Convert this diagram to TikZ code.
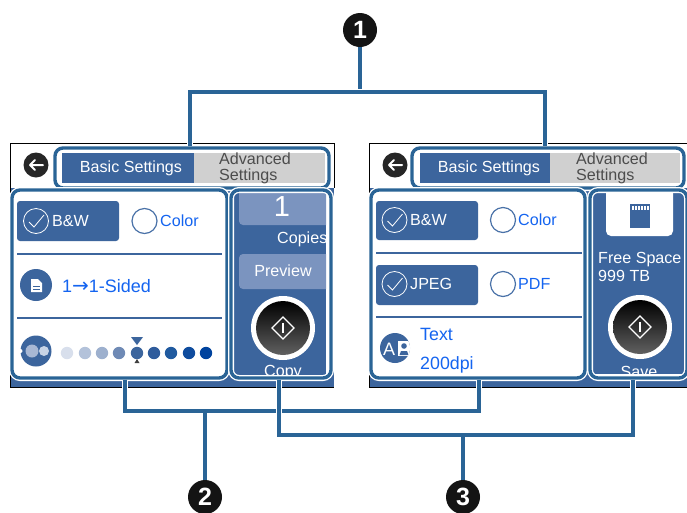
\documentclass[tikz,border=0pt]{standalone}
\usepackage{fontspec}
\setmainfont{Liberation Sans}
\newfontfamily\arrowfont{DejaVu Sans}
\definecolor{uiblue}{HTML}{3C659D}
\definecolor{outl}{HTML}{2A6496}
\definecolor{pale}{HTML}{7B94BF}
\definecolor{tabgray}{HTML}{D0D0D0}
\definecolor{linkblue}{HTML}{1464F0}
\definecolor{ringblue}{HTML}{4A72A8}
\definecolor{densa}{HTML}{A8B8D4}
\definecolor{densb}{HTML}{C8D4E6}
\tikzset{
  px/.style={x=1pt,y=-1pt},
  outline/.style={rectangle,rounded corners=8pt,draw=outl,line width=3.4pt,inner sep=0pt,
    preaction={draw=white,line width=6pt}},
  conn/.style={draw=outl,line width=3.4pt,preaction={draw=white,line width=6pt}},
  connplain/.style={draw=outl,line width=3.4pt},
  badge/.style={circle,fill=black!92,text=white,minimum size=34pt,inner sep=0pt,font=\fontsize{25}{25}\selectfont\bfseries},
  ui/.style={font=\fontsize{16.1}{17}\selectfont,inner sep=0pt,yshift=-1pt},
  whitetext/.style={ui,text=white},
  bluetext/.style={ui,text=linkblue},
  graytext/.style={ui,text=black!70,align=left},
  sel/.style={fill=uiblue,rounded corners=3pt},
  sep/.style={draw=uiblue,line width=2pt},
  radio/.style={circle,draw=ringblue,line width=1.2pt,minimum size=25pt,inner sep=0pt},
  radioon/.style={circle,draw=white,line width=.8pt,minimum size=25pt,inner sep=0pt},
  tick/.style={draw=white,line width=.8pt},
  icon/.style={circle,fill=uiblue,minimum size=32pt,inner sep=0pt},
  softbtn/.style={fill=pale,rounded corners=4pt},
  backbtn/.style={circle,fill=black!85,minimum size=25pt,inner sep=0pt},
}
\newcommand{\backicon}[2]{%
  \node[backbtn] at (#1,#2) {};
  \draw[white,line width=2pt,line cap=round,line join=round] (#1+7,#2)--(#1-6,#2) (#1-1,#2-5)--(#1-6,#2)--(#1-1,#2+5);}
\newcommand{\startbtn}[2]{%
  \fill[white] (#1,#2) circle (32);
  \shade[top color=black,middle color=black!45,bottom color=black!62] (#1,#2) circle (27);
  \draw[white,line width=1.3pt] (#1-11,#2)--(#1,#2-11)--(#1+11,#2)--(#1,#2+11)--cycle;
  \draw[white,line width=1.3pt] (#1,#2-5)--(#1,#2+5);}
\newcommand{\radioyes}[2]{%
  \node[radioon] at (#1,#2) {};
  \draw[tick] (#1-7,#2+1)--(#1-2,#2+6)--(#1+8,#2-6);}
\begin{document}
\begin{tikzpicture}[px]
\useasboundingbox (0,0) rectangle (687,512);
% ---- left screen
\fill[white] (10,143) rectangle (334,190);
\fill[uiblue] (10,188) rectangle (334,387);
\draw[black,line width=1pt] (10,193)--(10,143)--(334,143)--(334,188);
\draw[black,line width=1pt] (10,372)--(10,387)--(334,387);
\backicon{36}{165}
\fill[uiblue] (62,153) rectangle (194,183);
\fill[tabgray] (194,153) rectangle (325,183);
\node[whitetext] at (131,167) {Basic Settings};
\node[graytext,anchor=west,text width=90pt] at (219,167) {Advanced\\[-1.2pt]Settings};
\fill[white] (12,190) rectangle (227,378);
\fill[sel] (17,201) rectangle (119,241);
\radioyes{36}{221}
\node[whitetext,anchor=west] at (52,220) {B\&W};
\node[radio] at (144.5,221) {};
\node[bluetext,anchor=west] at (160,220) {Color};
\draw[sep] (17,254)--(222,254);
\node[icon] at (36,285) {};
\fill[white] (31,279) -- (38,279) -- (42,283) -- (42,292) -- (31,292) -- cycle;
\draw[uiblue,line width=.8pt] (33,286)--(40,286) (33,289)--(40,289);
\node[bluetext,anchor=west,font=\fontsize{18}{19}\selectfont] at (62,285) {1{\arrowfont\fontsize{20}{20}\selectfont →}1-Sided};
\draw[sep] (17,318)--(222,318);
\node[icon,minimum size=31pt] at (36,351) {};
\fill[white] (20.5,351) circle (2);
\fill[densa] (32,351) circle (6.5);
\fill[densb] (44,351) circle (5);
\foreach \x/\c in {67/D8DFEC,85/B3C2DA,102/9DB0CE,119/6F8AB5,137/3C659D,154/2F5C9C,171/205A9F,189/0F4C9E,206/00439E}{
  \definecolor{dd}{HTML}{\c}\fill[dd] (\x,353) circle (6.2);}
\fill[uiblue] (131,337)--(143,337)--(137,345)--cycle;
\fill[black!75] (134.5,363)--(139.5,363)--(137,359)--cycle;
\fill[white] (232,192) rectangle (331,378);
\fill[uiblue] (234,193) rectangle (326,375);
\begin{scope}
  \clip (234,193) rectangle (326,375);
  \fill[softbtn] (239,180) rectangle (340,225);
  \node[text=white,font=\fontsize{29}{29}\selectfont,inner sep=0pt] at (282,207) {1};
  \node[whitetext,anchor=west] at (277,238) {Copies};
  \fill[softbtn] (239,254) rectangle (340,289);
  \node[whitetext] at (283,270) {Preview};
  \node[whitetext] at (283,372) {Copy};
\end{scope}
\startbtn{283}{328}
% ---- right screen
\fill[white] (369,143) rectangle (687,190);
\fill[uiblue] (369,188) rectangle (687,387);
\draw[black,line width=1pt] (369,193)--(369,143)--(687,143);
\draw[black,line width=1pt] (369,372)--(369,387)--(687,387);
\backicon{395}{165}
\fill[uiblue] (420,153) rectangle (550,183);
\fill[tabgray] (550,153) rectangle (680,183);
\node[whitetext] at (489,167) {Basic Settings};
\node[graytext,anchor=west,text width=90pt] at (576,167) {Advanced\\[-1.2pt]Settings};
\fill[white] (371,190) rectangle (585,378);
\fill[sel] (376,201) rectangle (478,240);
\radioyes{394.5}{220}
\node[whitetext,anchor=west] at (410,219) {B\&W};
\node[radio] at (503,220) {};
\node[bluetext,anchor=west] at (518,219) {Color};
\draw[sep] (376,253)--(582,253);
\fill[sel] (376,265) rectangle (478,305);
\radioyes{394.5}{284}
\node[whitetext,anchor=west] at (410,283) {JPEG};
\node[radio] at (503,284) {};
\node[bluetext,anchor=west] at (518,283) {PDF};
\draw[sep] (376,317)--(582,317);
\node[icon,minimum size=30pt] at (395,348) {};
\node[text=white,font=\fontsize{18}{18}\selectfont,inner sep=0pt] at (389,349) {A};
\begin{scope}
  \clip (395,348) circle (15);
  \fill[white] (398,341) rectangle (411,356);
  \fill[uiblue] (404,346) circle (2.8);
  \fill[uiblue] (399.5,355)--(401,351)--(407,351)--(408.5,355)--cycle;
\end{scope}
\node[bluetext,anchor=west,font=\fontsize{17.8}{19}\selectfont] at (420,333) {Text};
\node[bluetext,anchor=west,font=\fontsize{17.8}{19}\selectfont] at (420,364) {200dpi};
\fill[white] (590,192) rectangle (687,378);
\fill[uiblue] (593,193) rectangle (685,374);
\begin{scope}
  \clip (593,193) rectangle (685,374);
  \fill[white,rounded corners=5pt] (606,180) rectangle (673,236);
  \fill[uiblue] (630,204) -- (650,204) -- (650,228) -- (630,228) -- cycle;
  \foreach \x in {633,636,639,642,645,648}{\fill[white] (\x-.8,206) rectangle (\x+.6,210);}
  \node[whitetext,anchor=west] at (598,259) {Free Space};
  \node[whitetext,anchor=west] at (598,275) {999 TB};
  \node[whitetext] at (639,371) {Save};
\end{scope}
\startbtn{640}{327}
% ---- outlines
\node[outline,minimum width=274pt,minimum height=40pt] (ltop) at (192,168) {};
\node[outline,minimum width=215pt,minimum height=188pt] (lmain) at (119.5,284) {};
\node[outline,minimum width=100pt,minimum height=188pt] (lside) at (281,284) {};
\node[outline,minimum width=272pt,minimum height=40pt] (rtop) at (548,168) {};
\node[outline,minimum width=214pt,minimum height=188pt] (rmain) at (478,284) {};
\node[outline,minimum width=97pt,minimum height=188pt] (rside) at (638.5,284) {};
% ---- badges
\node[badge] (b1) at (360,30) {1};
\node[badge] (b2) at (205,497) {2};
\node[badge] (b3) at (463,497) {3};
% ---- connectors
\coordinate (j1) at (360,92);
\coordinate (j2) at (205,411);
\coordinate (j3) at (463,435);
\draw[connplain] (b1.south)--(j1);
\draw[conn] ([xshift=-2pt]ltop.north) |- (j1) -| ([xshift=-3pt]rtop.north);
\draw[conn] ([xshift=5.5pt]lmain.south) |- (j2) -| ([xshift=1pt]rmain.south);
\draw[connplain] (j2)--(b2.north);
\draw[conn] ([xshift=-2pt]lside.south) |- (j3) -| ([xshift=-5.5pt]rside.south);
\draw[connplain] (j3)--(b3.north);
\end{tikzpicture}
\end{document}
